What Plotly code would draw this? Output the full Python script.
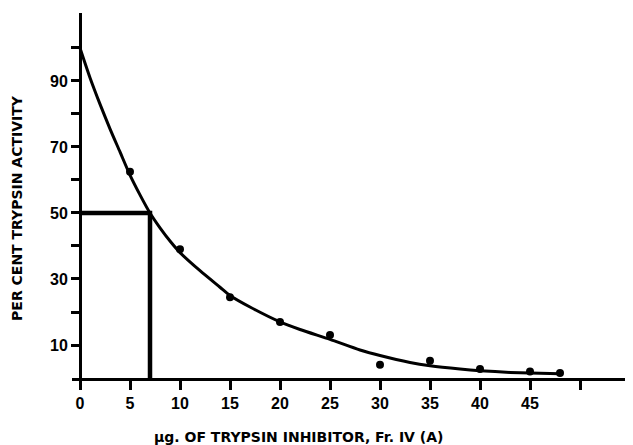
import plotly.graph_objects as go

# measured points: micrograms of inhibitor vs per cent trypsin activity
dose = [5, 10, 15, 20, 25, 30, 35, 40, 45, 48]
activity = [62.5, 39, 24.5, 17, 13, 4, 5.2, 2.7, 2, 1.5]

# smooth drawn curve
curve_x = [0, 1, 2, 3, 4, 5, 6, 7, 8, 9, 10, 12, 14, 15, 17, 20, 22, 25, 28, 30,
           33, 35, 38, 40, 43, 45, 48]
curve_y = [100, 91, 83, 75.5, 68.5, 61.5, 55.5, 50, 45.5, 41.5, 38, 32.5, 27.5, 25,
           21.5, 17, 14.7, 11.7, 8.5, 6.8, 4.7, 3.7, 2.7, 2.2, 1.7, 1.5, 1.3]

# 50 % inhibition read-off
half_dose = 7.0
half_activity = 50

x_ticks = [0, 5, 10, 15, 20, 25, 30, 35, 40, 45, 50]
x_labels = ["0", "5", "10", "15", "20", "25", "30", "35", "40", "45", ""]
y_ticks = [10, 20, 30, 40, 50, 60, 70, 80, 90, 100]
y_labels = ["10", "", "30", "", "50", "", "70", "", "90", ""]

FONT = "Liberation Sans, Arial, sans-serif"

fig = go.Figure()
fig.add_trace(go.Scatter(x=curve_x, y=curve_y, mode="lines",
                         line=dict(color="black", width=3, shape="spline", smoothing=0.7),
                         hoverinfo="skip"))
fig.add_trace(go.Scatter(x=[0, half_dose, half_dose], y=[half_activity, half_activity, 0],
                         mode="lines", line=dict(color="black", width=4.5)))
fig.add_trace(go.Scatter(x=dose, y=activity, mode="markers",
                         marker=dict(color="black", size=8)))

# the page body has an 8px margin, so the figure is sized to fit inside the window
x_lo, x_hi = -0.8, 55.3
fig.update_layout(
    width=625, height=437,
    margin=dict(l=64, r=0, t=5, b=67, autoexpand=False),
    paper_bgcolor="white", plot_bgcolor="white",
    showlegend=False,
    xaxis=dict(range=[x_lo, x_hi], tickvals=x_ticks, ticktext=x_labels,
               automargin=False,
               showgrid=False, zeroline=False, showline=True, linecolor="black",
               linewidth=3, ticks="outside", ticklen=9, tickwidth=2.5,
               tickcolor="black",
               tickfont=dict(family=FONT, size=16, color="black", weight="bold")),
    yaxis=dict(range=[0, 110.6], tickvals=y_ticks, ticktext=y_labels,
               automargin=False,
               anchor="free", position=(0 - x_lo) / (x_hi - x_lo),
               showgrid=False, zeroline=False, showline=True, linecolor="black",
               linewidth=3, ticks="outside", ticklen=8, tickwidth=2.5,
               tickcolor="black",
               tickfont=dict(family=FONT, size=16, color="black", weight="bold")),
    annotations=[
        dict(text="µg. OF TRYPSIN INHIBITOR, Fr. IV (A)", xref="paper", yref="paper",
             x=0.403, y=-0.162, showarrow=False, xanchor="center", yanchor="middle",
             font=dict(family="DejaVu Sans", size=14, color="black", weight="bold")),
        dict(text="PER CENT TRYPSIN ACTIVITY", xref="paper", yref="paper",
             x=-0.098, y=0.466, showarrow=False, textangle=-90,
             xanchor="center", yanchor="middle",
             font=dict(family="DejaVu Sans", size=14, color="black", weight="bold")),
    ],
)

fig.write_html("out.html")
